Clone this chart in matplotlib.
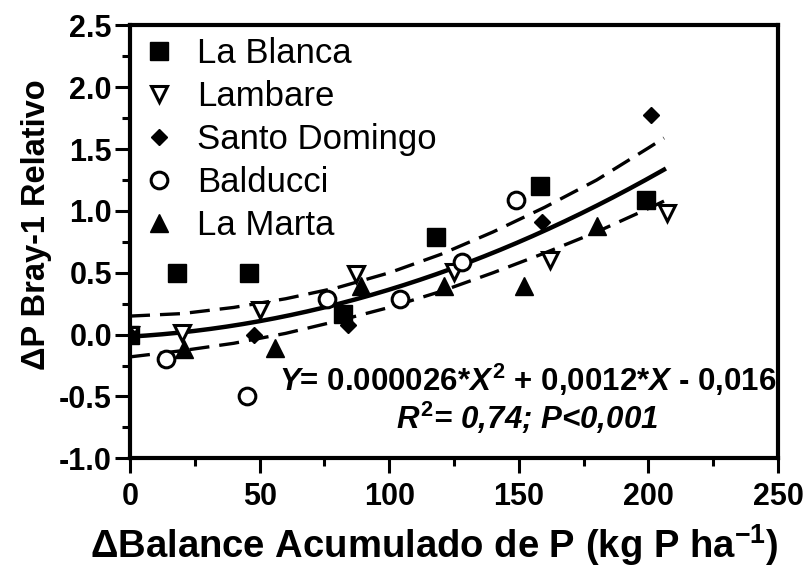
import matplotlib
matplotlib.use("Agg")
import matplotlib.pyplot as plt
from matplotlib.ticker import MultipleLocator, FormatStrFormatter
import numpy as np

# data
la_blanca_x = [0, 18, 46, 82, 118, 158, 199]
la_blanca_y = [0.0, 0.5, 0.5, 0.17, 0.79, 1.2, 1.09]
lambare_x = [0, 20, 50, 87, 125, 162, 207]
lambare_y = [0.0, 0.01, 0.2, 0.49, 0.51, 0.6, 0.98]
santo_x = [0, 48, 84, 159, 201]
santo_y = [0.0, 0.0, 0.08, 0.91, 1.78]
balducci_x = [14, 45, 76, 104, 128, 149]
balducci_y = [-0.2, -0.5, 0.29, 0.29, 0.59, 1.09]
marta_x = [21, 56, 89, 121, 152, 180]
marta_y = [-0.12, -0.11, 0.39, 0.39, 0.39, 0.88]

# fitted curve Y = a*X^2 + b*X + c (coefficients printed on the chart)
fit_a, fit_b, fit_c = 0.000026, 0.0012, -0.016
fit_xmax = 206

# 95% band
band_x = [0, 20, 40, 60, 80, 100, 120, 140, 160, 180, 200, 206]
band_upper = [0.15, 0.17, 0.22, 0.29, 0.38, 0.50, 0.65, 0.83, 1.03, 1.25, 1.51, 1.59]
band_lower = [-0.18, -0.13, -0.07, 0.01, 0.11, 0.22, 0.35, 0.50, 0.66, 0.83, 1.02, 1.08]

plt.rcParams["font.family"] = ["Liberation Sans", "DejaVu Sans"]
plt.rcParams["axes.unicode_minus"] = False
plt.rcParams["mathtext.fontset"] = "custom"
plt.rcParams["mathtext.rm"] = "Liberation Sans:bold"
plt.rcParams["mathtext.bf"] = "Liberation Sans:bold"
plt.rcParams["mathtext.it"] = "Liberation Sans:bold:italic"

fig = plt.figure(figsize=(8.06, 5.73), dpi=100)
ax = fig.add_axes([0.1613, 0.2002, 0.8040, 0.7553])

xs = np.linspace(0, fit_xmax, 200)
ax.plot(xs, fit_a * xs**2 + fit_b * xs + fit_c, color="black", lw=3.2, zorder=2)
ax.plot(band_x, band_upper, color="black", lw=2.4, dashes=[6, 3], zorder=2)
ax.plot(band_x, band_lower, color="black", lw=2.4, dashes=[6, 3], zorder=2)

ax.plot(la_blanca_x, la_blanca_y, ls="none", marker="s", ms=13, mfc="black",
        mec="black", label="La Blanca", zorder=3)
ax.plot(lambare_x, lambare_y, ls="none", marker="v", ms=12, mfc="white",
        mec="black", mew=2.2, label="Lambare", zorder=3)
ax.plot(santo_x, santo_y, ls="none", marker="D", ms=8, mfc="black",
        mec="black", label="Santo Domingo", zorder=3)
ax.plot(balducci_x, balducci_y, ls="none", marker="o", ms=12, mfc="white",
        mec="black", mew=2.2, label="Balducci", zorder=3)
ax.plot(marta_x, marta_y, ls="none", marker="^", ms=13, mfc="black",
        mec="black", label="La Marta", zorder=3)

ax.set_xlim(0, 250)
ax.set_ylim(-1.0, 2.5)
ax.xaxis.set_major_locator(MultipleLocator(50))
ax.xaxis.set_minor_locator(MultipleLocator(25))
ax.yaxis.set_major_locator(MultipleLocator(0.5))
ax.yaxis.set_minor_locator(MultipleLocator(0.25))
ax.yaxis.set_major_formatter(FormatStrFormatter("%.1f"))

for s in ax.spines.values():
    s.set_linewidth(3)
ax.tick_params(which="major", direction="out", length=11, width=2.2,
               labelsize=22)
ax.tick_params(which="minor", direction="out", length=6, width=2.2)
ax.tick_params(axis="x", which="major", pad=6)
ax.tick_params(axis="y", which="major", pad=2)
ax.tick_params(top=False, right=False, which="both")
for lab in ax.get_xticklabels() + ax.get_yticklabels():
    lab.set_fontweight("bold")

ax.set_xlabel(r"ΔBalance Acumulado de P (kg P ha$^{-1}$)", fontsize=27.5,
              fontweight="bold")
ax.set_ylabel("ΔP Bray-1 Relativo", fontsize=23.5, fontweight="bold")
ax.xaxis.set_label_coords(0.47, -0.147)
ax.yaxis.set_label_coords(-0.12, 0.54)

ax.text(0.613, 0.181, r"$Y$= 0.000026*$X^{2}$ + 0,0012*$X$ - 0,016",
        transform=ax.transAxes, ha="center", va="center", fontsize=22.5,
        fontweight="bold")
ax.text(0.613, 0.093, r"$R^{2}$= 0,74; P<0,001", transform=ax.transAxes,
        ha="center", va="center", fontsize=22.5, fontweight="bold",
        fontstyle="italic")

ax.legend(loc="upper left", bbox_to_anchor=(0, 1), frameon=False,
          prop={"family": ["Liberation Sans", "DejaVu Sans"], "size": 25},
          handlelength=1.0, handletextpad=0.6, borderaxespad=0,
          borderpad=0.33, labelspacing=0.29)

fig.savefig("out.png", dpi=100)
